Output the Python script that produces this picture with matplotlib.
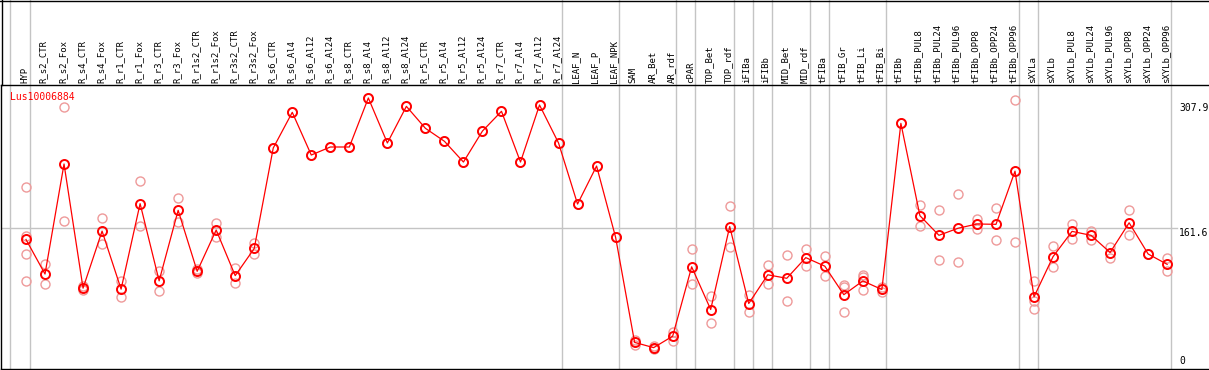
import matplotlib
matplotlib.use("Agg")
import matplotlib.pyplot as plt
from matplotlib.lines import Line2D
import numpy as np

# sample names (columns, left to right)
samples = ["HYP",
           "R_s2_CTR", "R_s2_Fox", "R_s4_CTR", "R_s4_Fox", "R_r1_CTR", "R_r1_Fox",
           "R_r3_CTR", "R_r3_Fox", "R_r1s2_CTR", "R_r1s2_Fox", "R_r3s2_CTR", "R_r3s2_Fox",
           "R_s6_CTR", "R_s6_Al4", "R_s6_Al12", "R_s6_Al24",
           "R_s8_CTR", "R_s8_Al4", "R_s8_Al12", "R_s8_Al24",
           "R_r5_CTR", "R_r5_Al4", "R_r5_Al12", "R_r5_Al24",
           "R_r7_CTR", "R_r7_Al4", "R_r7_Al12", "R_r7_Al24",
           "LEAF_N", "LEAF_P", "LEAF_NPK",
           "SAM", "AR_Bet", "AR_rdf", "cPAR", "TOP_Bet", "TOP_rdf",
           "iFIBa", "iFIBb", "MID_Bet", "MID_rdf",
           "tFIBa", "tFIB_Gr", "tFIB_Li", "tFIB_Bi",
           "tFIBb", "tFIBb_PUL8", "tFIBb_PUL24", "tFIBb_PUL96",
           "tFIBb_OPP8", "tFIBb_OPP24", "tFIBb_OPP96",
           "sXYLa", "sXYLb", "sXYLb_PUL8", "sXYLb_PUL24", "sXYLb_PUL96",
           "sXYLb_OPP8", "sXYLb_OPP24", "sXYLb_OPP96"]

# replicate expression values per sample
replicates = [[209.6, 152.6, 131.9, 99.9],
              [120.1, 96.0], [304.0, 169.8], [93.7, 89.3], [173.7, 142.9],
              [99.9, 80.8], [216.6, 164.3], [111.9, 88.2], [196.7, 168.6],
              [113.6, 108.9], [168.1, 151.1], [114.8, 97.5], [144.4, 131.5],
              [255.6], [297.4], [247.4], [256.8],
              [256.8], [314.2], [261.5], [304.4],
              [278.7], [263.5], [239.2], [275.5],
              [298.6], [239.2], [306.0], [261.5],
              [190.0], [234.5], [151.1],
              [31.0, 25.0], [23.8, 19.9], [40.5, 30.0], [137.0, 96.0],
              [82.3, 50.7], [187.7, 139.7],
              [83.8, 63.2], [118.3, 96.0], [130.0, 76.1], [137.4, 117.1],
              [128.8, 105.7], [95.2, 93.2, 63.2], [106.6, 104.2, 89.0], [92.5, 87.4],
              [284.5], [188.9, 163.9], [182.7, 124.1], [201.4, 121.8],
              [172.5, 160.8], [185.0, 147.5], [311.8, 145.2],
              [100.2, 76.8, 67.1], [140.9, 115.9], [166.6, 149.4], [158.8, 147.9],
              [140.0, 126.5], [182.7, 153.4], [131.5], [127.2, 111.6]]

# index of last sample in each group (separator lines)
group_ends = [0, 28, 31, 34, 35, 37, 38, 39, 41, 42, 45, 52, 53, 60]

y_ticks = [0, 161.6, 307.9]
gene = "Lus10006884"

W, H = 1209, 370
fig = plt.figure(figsize=(W / 100, H / 100), dpi=100)
# plot area in pixels: x 1..1209, y 85..369 (from top)
ax = fig.add_axes([1 / W, 1 / H, (W - 1) / W, 284 / H])

x = np.arange(len(samples))
means = np.array([np.mean(r) for r in replicates])

grid_c = "#c4c4c4"
ax.set_xlim(-1.314, 62.2)
ax.set_ylim(-3.16, 329.4)

# group separators, running up through the label area
top_frac = 369 / 284
ax.axvline(-0.84, 0, top_frac, color=grid_c, lw=1, clip_on=False, zorder=0)
for g in group_ends:
    ax.axvline(g + 0.2, 0, top_frac, color=grid_c, lw=1, clip_on=False, zorder=0)
ax.axhline(y_ticks[1], 0, 0.9735, color=grid_c, lw=1, zorder=0)

# replicates
for i, reps in enumerate(replicates):
    ax.plot([i] * len(reps), reps, "o", mfc="none", mec="#ee9a9a", ms=6.5, mew=1.0, zorder=2)

ax.plot(x, means, "-", color="red", lw=0.9, zorder=3)
ax.plot(x, means, "o", mfc="none", mec="red", ms=6.5, mew=1.4, zorder=4)

# sample labels above the plot
tr = ax.get_xaxis_transform()
for i, s in enumerate(samples):
    ax.text(i - 0.08, 1.007, s, rotation=90, ha="center", va="bottom", transform=tr,
            fontsize=6.5, family="DejaVu Sans Mono", clip_on=False)

# right-hand value labels
ytr = ax.get_yaxis_transform()
for v in y_ticks:
    ax.text(0.9752, v, f"{v:g}", transform=ytr, ha="left",
            va="bottom" if v == 0 else "top", fontsize=7, family="DejaVu Sans Mono")

ax.text(9 / 1208, 0.959, gene, color="red", transform=ax.transAxes, ha="left",
        va="center", fontsize=7, family="DejaVu Sans Mono")

ax.set_xticks([])
ax.set_yticks([])
ax.spines["right"].set_visible(False)
for sp in ["left", "bottom", "top"]:
    ax.spines[sp].set_linewidth(1.0)

# outer frame of the label area
fig.add_artist(Line2D([0, 1], [1 - 0.5 / H, 1 - 0.5 / H], color="black", lw=1.0))
fig.add_artist(Line2D([1.5 / W, 1.5 / W], [285 / H, 1], color="black", lw=1.0))

fig.savefig("out.png", dpi=100)
